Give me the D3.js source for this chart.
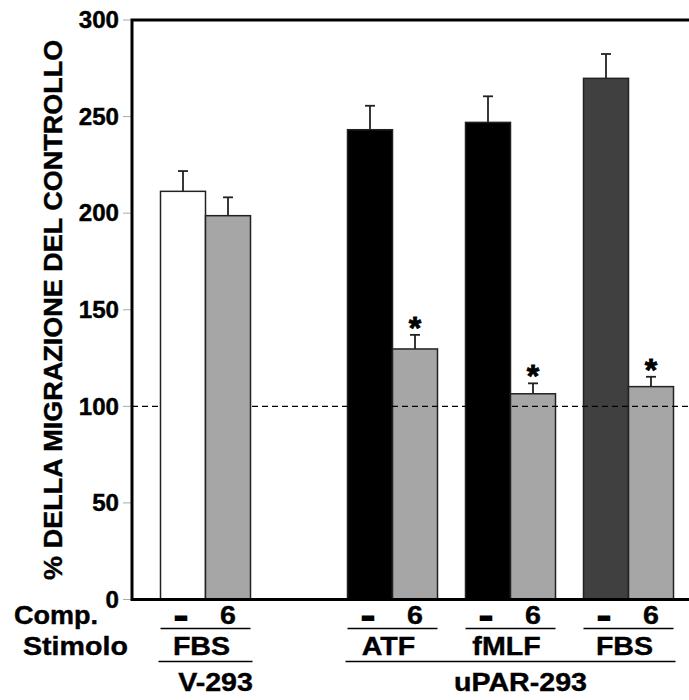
<!DOCTYPE html>
<html>
<head>
<meta charset="utf-8">
<script src="https://d3js.org/d3.v7.min.js"></script>
<style>
  body { margin: 0; background: #fff; }
  text { font-family: "Liberation Sans", Arial, sans-serif; font-weight: bold; fill: #000;
         stroke: #000; stroke-width: 0.4px; }
</style>
</head>
<body>
<div id="chart"></div>
<script>
// chart data
var cellLines = ["V-293", "uPAR-293"];
var stimuli = ["FBS", "ATF", "fMLF", "FBS"];
var stimCell = ["V-293", "uPAR-293", "uPAR-293", "uPAR-293"];
var compLabels = ["-", "6"];
var controlValues = [211.3, 243.2, 247, 269.8];
var controlErrors = [10.5, 12.4, 13.5, 12.6];
var comp6Values = [198.7, 129.7, 106.5, 110.2];
var comp6Errors = [9.5, 7.3, 5.4, 5.1];
var significant = [false, true, true, true];
var controlFills = ["#ffffff", "#000000", "#000000", "#404040"];
var yTicks = [0, 50, 100, 150, 200, 250, 300];
var refLevel = 100;

var width = 689, height = 700;
var plotLeft = 132, plotRight = 689, plotTop = 20, plotBottom = 599.5;
var stretch = 1.1; // the labels in the original are a bit wider than Arial

var svg = d3.select("#chart").append("svg")
    .attr("width", width)
    .attr("height", height);

var y = d3.scaleLinear().domain([0, 300]).range([plotBottom, plotTop]);

// group layout: V-293 pair first, then the three uPAR-293 pairs
var pairW = 90, pairGap = 28, cellGap = 69, firstX = 160.5;
function groupX(i) {
    return firstX + i * (pairW + pairGap) + (i > 0 ? cellGap : 0);
}
var inner = d3.scaleBand().domain(compLabels).range([0, pairW]);

var bars = [];
stimuli.forEach(function(s, i) {
    bars.push({ g: i, comp: "-", v: controlValues[i], e: controlErrors[i], fill: controlFills[i], star: false });
    bars.push({ g: i, comp: "6", v: comp6Values[i], e: comp6Errors[i], fill: "#a6a6a6", star: significant[i] });
});
function barX(d) { return groupX(d.g) + inner(d.comp); }
function barMid(d) { return barX(d) + inner.bandwidth() / 2; }

function at(x, yy, sx) {
    return "translate(" + x + "," + yy + ") scale(" + (sx || stretch) + ",1)";
}

// ticks
svg.append("g").selectAll("line").data(yTicks).enter().append("line")
    .attr("x1", 123).attr("x2", plotLeft)
    .attr("y1", function(d) { return y(d); })
    .attr("y2", function(d) { return y(d); })
    .style("stroke", "#aaa").style("stroke-width", 1);

svg.append("g").selectAll("text").data(yTicks).enter().append("text")
    .attr("transform", function(d) { return at(119, y(d), 1.05); })
    .attr("dy", "0.36em")
    .style("text-anchor", "end")
    .style("font-size", "23px")
    .text(function(d) { return d; });

function drawBars(data) {
    var g = svg.append("g");
    g.selectAll("line.err").data(data).enter().append("line")
        .attr("class", "err")
        .attr("x1", barMid).attr("x2", barMid)
        .attr("y1", function(d) { return y(d.v); })
        .attr("y2", function(d) { return y(d.v + d.e); })
        .style("stroke", "#222").style("stroke-width", 1.8);
    g.selectAll("line.cap").data(data).enter().append("line")
        .attr("class", "cap")
        .attr("x1", function(d) { return barMid(d) - 5; })
        .attr("x2", function(d) { return barMid(d) + 5; })
        .attr("y1", function(d) { return y(d.v + d.e); })
        .attr("y2", function(d) { return y(d.v + d.e); })
        .style("stroke", "#222").style("stroke-width", 1.8);
    g.selectAll("rect").data(data).enter().append("rect")
        .attr("x", barX)
        .attr("y", function(d) { return y(d.v); })
        .attr("width", inner.bandwidth())
        .attr("height", function(d) { return y(0) - y(d.v); })
        .style("fill", function(d) { return d.fill; })
        .style("stroke", "#222").style("stroke-width", 1.5);
    g.selectAll("text").data(data.filter(function(d) { return d.star; })).enter().append("text")
        .attr("x", barMid)
        .attr("y", function(d) { return y(d.v + d.e) + 4; })
        .style("text-anchor", "middle")
        .style("font-size", "32px")
        .style("stroke-width", "0.8px")
        .text("*");
}

// uPAR bars sit under the dashed reference line, V-293 bars above it
drawBars(bars.filter(function(d) { return d.g > 0; }));

svg.append("line")
    .attr("x1", plotLeft).attr("x2", plotRight)
    .attr("y1", y(refLevel)).attr("y2", y(refLevel))
    .style("stroke", "#000").style("stroke-width", 1.3)
    .style("stroke-dasharray", "6,4");

drawBars(bars.filter(function(d) { return d.g === 0; }));

// frame
svg.append("path")
    .attr("d", "M" + plotRight + "," + y(300) + "H" + plotLeft + "V" + y(0) + "H" + plotRight)
    .style("fill", "none").style("stroke", "#000").style("stroke-width", 3);

// y title
svg.append("text")
    .attr("transform", "translate(62," + ((plotTop + plotBottom) / 2) + ") rotate(-90) scale(1.02,1)")
    .style("text-anchor", "middle")
    .style("font-size", "26.5px")
    .text("% DELLA MIGRAZIONE DEL CONTROLLO");

// category rows
var rowComp = 624, rowStim = 655, rowCell = 691;
svg.append("text").attr("transform", at(14, rowComp, 1.04)).style("font-size", "26px").text("Comp.");
svg.append("text").attr("transform", at(23, rowStim)).style("font-size", "26px").text("Stimolo");

svg.append("g").selectAll("text").data(bars).enter().append("text")
    .attr("transform", function(d) {
        return d.comp === "-" ? at(barMid(d) - 2, rowComp + 1.5, 1.3) : at(barMid(d), rowComp);
    })
    .style("text-anchor", "middle")
    .style("font-size", function(d) { return d.comp === "-" ? "30px" : "26px"; })
    .style("stroke-width", function(d) { return d.comp === "-" ? "2px" : null; })
    .text(function(d) { return d.comp; });

svg.append("g").selectAll("line").data(stimuli).enter().append("line")
    .attr("x1", function(d, i) { return groupX(i); })
    .attr("x2", function(d, i) { return groupX(i) + pairW; })
    .attr("y1", 628.5).attr("y2", 628.5)
    .style("stroke", "#000").style("stroke-width", 1.5);

svg.append("g").selectAll("text").data(stimuli).enter().append("text")
    .attr("transform", function(d, i) { return at(groupX(i) + pairW / 2 - 4, rowStim); })
    .style("text-anchor", "middle")
    .style("font-size", "26px")
    .text(function(d) { return d; });

var cellExtent = cellLines.map(function(c) {
    var idx = d3.range(stimuli.length).filter(function(i) { return stimCell[i] === c; });
    return [groupX(d3.min(idx)), groupX(d3.max(idx)) + pairW];
});

svg.append("g").selectAll("line").data(cellLines).enter().append("line")
    .attr("x1", function(d, i) { return cellExtent[i][0] - 2; })
    .attr("x2", function(d, i) { return cellExtent[i][1] + 2; })
    .attr("y1", 661.5).attr("y2", 661.5)
    .style("stroke", "#000").style("stroke-width", 1.5);

svg.append("g").selectAll("text").data(cellLines).enter().append("text")
    .attr("transform", function(d, i) { return at((cellExtent[i][0] + cellExtent[i][1]) / 2 + 10, rowCell); })
    .style("text-anchor", "middle")
    .style("font-size", "26px")
    .text(function(d) { return d; });
</script>
</body>
</html>
